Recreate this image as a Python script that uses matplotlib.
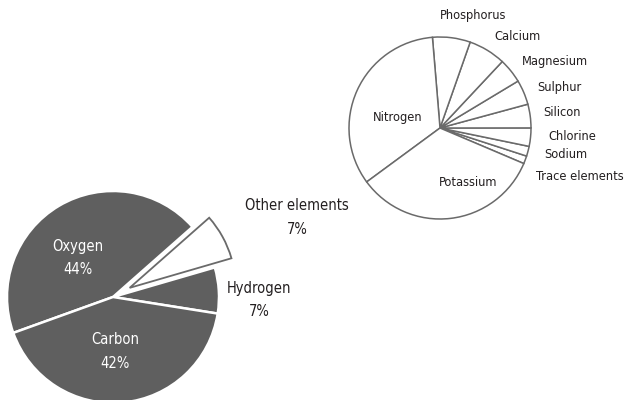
import numpy as np
import matplotlib
matplotlib.use('Agg')
import matplotlib.pyplot as plt
from matplotlib import font_manager

# narrow font if available, otherwise condensed DejaVu
names = set(f.name for f in font_manager.fontManager.ttflist)
if 'Liberation Sans Narrow' in names:
    plt.rcParams['font.family'] = ['Liberation Sans Narrow', 'DejaVu Sans']
    STRETCH = 'normal'
else:
    plt.rcParams['font.family'] = ['DejaVu Sans']
    STRETCH = 'condensed'

# main pie: composition by mass (%)
main_labels = ['Hydrogen', 'Other elements', 'Oxygen', 'Carbon']
main_values = [7, 7, 44, 42]

# detail pie: breakdown of "other elements"
other_labels = ['Trace elements', 'Sodium', 'Chlorine', 'Silicon', 'Sulphur',
                'Magnesium', 'Calcium', 'Phosphorus', 'Nitrogen', 'Potassium']
other_values = [1.4, 1.75, 3.25, 4.2, 4.4, 4.4, 6.6, 6.7, 33.75, 33.5]

GREY = '#5f5f5f'
EDGE = '#6a6a6a'
TXT = '#231f20'

fig = plt.figure(figsize=(6.25, 4.0), dpi=100)
ax = fig.add_axes([0, 0, 1, 1])

# big pie
big_c = (113, 103)
big_r = 106
wedges, _ = ax.pie(main_values, center=big_c, radius=big_r, startangle=-9,
                   counterclock=True, explode=[0, 19, 0, 0],
                   colors=[GREY, 'white', GREY, GREY],
                   wedgeprops=dict(edgecolor='white', linewidth=1.8),
                   frame=True)
wedges[1].set_edgecolor(EDGE)
wedges[1].set_linewidth(1.3)

# small pie
sm_c = (440, 272)
sm_r = 91
ax.pie(other_values, center=sm_c, radius=sm_r, startangle=-23,
       counterclock=True, colors=['white'] * len(other_values),
       wedgeprops=dict(edgecolor=EDGE, linewidth=1.1), frame=True)

ax.set_xlim(0, 625)
ax.set_ylim(0, 400)
ax.set_aspect('equal')
ax.axis('off')

fs = 10.5
main_pos = {'Oxygen': (78, 142, 'white'), 'Carbon': (115, 48, 'white'),
            'Hydrogen': (259, 100, TXT), 'Other elements': (297, 182, TXT)}
for name, val in zip(main_labels, main_values):
    x, y, c = main_pos[name]
    ax.text(x, y, '%s\n%d%%' % (name, val), ha='center', va='center',
            color=c, fontsize=fs, linespacing=1.75, fontstretch=STRETCH)

# inside labels centred, outside labels left aligned
sm_pos = {'Trace elements': (536, 224, 'left'), 'Sodium': (544, 245, 'left'),
          'Chlorine': (548, 263, 'left'), 'Silicon': (543, 288, 'left'),
          'Sulphur': (537, 313, 'left'), 'Magnesium': (522, 338, 'left'),
          'Calcium': (494, 363, 'left'), 'Phosphorus': (440, 384, 'left'),
          'Nitrogen': (398, 283, 'center'), 'Potassium': (468, 218, 'center')}
for name in other_labels:
    x, y, ha = sm_pos[name]
    ax.text(x, y, name, ha=ha, va='center', color=TXT, fontsize=9.2,
            fontstretch=STRETCH)

fig.savefig('out.png', dpi=100)
